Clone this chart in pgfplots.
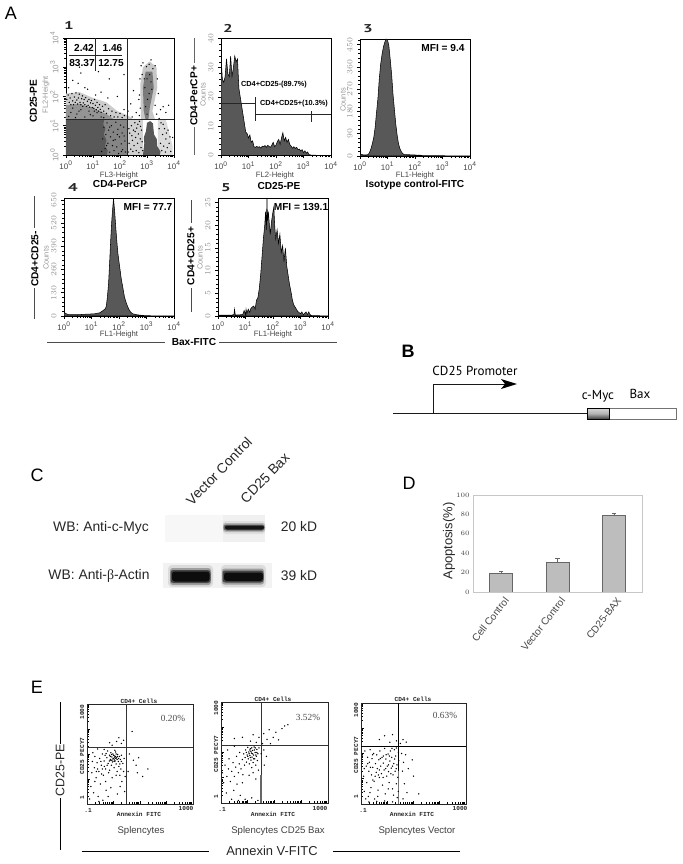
\documentclass[border=0pt]{standalone}
\usepackage{fontspec}
\setmainfont{Liberation Sans}
\newfontfamily\ptfont{PT Sans}
\newfontfamily\serfont{Liberation Serif}
\newfontfamily\monofont{Liberation Mono}
\usepackage{pgfplots}
\pgfplotsset{compat=1.18}
\definecolor{flowgray}{RGB}{88,88,88}
\definecolor{tickgray}{RGB}{70,70,70}
\definecolor{softgray}{RGB}{150,150,150}
\pgfplotsset{
 box/.style n args={4}{at={({#1*0.75pt},{(864-#3)*0.75pt})},anchor=north west,
  width={(#2-#1)*0.75pt},height={(#4-#3)*0.75pt},scale only axis},
 flow/.style={xmin=0,xmax=4,axis line style={line width=.6pt},
  xtick={0,1,2,3,4},xticklabels={10\textsuperscript{0},10\textsuperscript{1},10\textsuperscript{2},10\textsuperscript{3},10\textsuperscript{4}},
  minor xtick={.301,.477,.602,.699,.778,.845,.903,.954,1.301,1.477,1.602,1.699,1.778,1.845,1.903,1.954,2.301,2.477,2.602,2.699,2.778,2.845,2.903,2.954,3.301,3.477,3.602,3.699,3.778,3.845,3.903,3.954},
  tick align=outside,xtick pos=bottom,ytick pos=left,
  major tick length=2.2pt,minor tick length=1.2pt,tick style={black,line width=.4pt},
  tick label style={font=\fontsize{6}{7}\selectfont},
  xticklabel style={tickgray,yshift=1pt},
  yticklabel style={softgray,rotate=90,anchor=south,xshift=0pt,yshift=0pt},
  every axis plot/.append style={line width=.4pt}},
 hist/.style={draw=black,fill=flowgray},
 anx/.style={xmin=-1,xmax=3,ymin=-1,ymax=3,axis line style={line width=.6pt,black!85},
  xtick={-1,0,1,2,3},ytick={-1,0,1,2,3},xticklabels={},yticklabels={},
  minor xtick={-.7,-.52,-.4,-.3,-.22,-.15,-.1,-.05,.3,.48,.6,.7,.78,.85,.9,.95,1.3,1.48,1.6,1.7,1.78,1.85,1.9,1.95,2.3,2.48,2.6,2.7,2.78,2.85,2.9,2.95},
  minor ytick={-.7,-.52,-.4,-.3,-.22,-.15,-.1,-.05,.3,.48,.6,.7,.78,.85,.9,.95,1.3,1.48,1.6,1.7,1.78,1.85,1.9,1.95,2.3,2.48,2.6,2.7,2.78,2.85,2.9,2.95},
  tick align=inside,xtick pos=bottom,ytick pos=left,major tick length=2pt,minor tick length=1.2pt,tick style={black,line width=.5pt}},
 dots/.style={only marks,mark=*,mark size=.28pt,mark options={draw=none,fill=#1}},
 tone/.style={fill=black!#1,draw=none},
}
\begin{document}
\begin{tikzpicture}
\path[use as bounding box] (0,0) rectangle (511.5pt,648pt);

% panel 1, dot plot
\begin{axis}[flow,box={66}{174}{38}{155},ymin=0,ymax=4,ytick={0,1,2,3,4},
 yticklabels={10\textsuperscript{0},10\textsuperscript{1},10\textsuperscript{2},10\textsuperscript{3},10\textsuperscript{4}},
 minor ytick={.301,.477,.602,.699,.778,.845,.903,.954,1.301,1.477,1.602,1.699,1.778,1.845,1.903,1.954,2.301,2.477,2.602,2.699,2.778,2.845,2.903,2.954,3.301,3.477,3.602,3.699,3.778,3.845,3.903,3.954}]
% the dense clouds as tones, the loose dots on top
\addplot[tone=20] coordinates {(0,1.2) (0,2.1) (.5,2.15) (1,1.95) (1.5,1.8) (1.9,1.5) (2.3,1.35) (2.5,1.2)} --cycle;
\addplot[tone=42] coordinates {(0,1.2) (0,1.7) (.5,1.75) (1,1.6) (1.5,1.4) (1.8,1.2)} --cycle;
\addplot[tone=18] coordinates {(2.2,0) (2.2,1.23) (2.85,1.23) (2.85,0)} --cycle;
\addplot[tone=48] coordinates {(1.3,0) (1.3,1.23) (2.26,1.23) (2.26,0)} --cycle;
\addplot[tone=22] coordinates {(2.78,1.2) (2.75,2.4) (2.85,3.0) (3.1,3.2) (3.35,3.0) (3.38,2.3) (3.2,1.5) (3.3,1.2)} --cycle;
\addplot[tone=52] coordinates {(2.88,1.5) (2.85,2.3) (2.95,2.85) (3.2,2.85) (3.25,2.3) (3.1,1.6) (3.05,1.2) (2.95,1.2)} --cycle;
\addplot[tone=14] coordinates {(3.4,0) (3.4,1.2) (3.7,1.2) (3.95,.3) (3.95,0)} --cycle;
\addplot[fill=flowgray,draw=none] coordinates {(0,0) (0,1.23) (1.42,1.23) (1.38,1.05) (1.46,.9) (1.4,.7) (1.5,.5) (1.44,.3) (1.55,.15) (1.5,0)} --cycle;
\addplot[fill=flowgray,draw=none] coordinates {(2.85,0) (2.9,.4) (2.88,.6) (2.96,.8) (3.0,1.1) (3.12,1.16) (3.22,1.08) (3.26,.7) (3.36,.55) (3.38,.3) (3.5,.12) (3.48,0)} --cycle;
% light specks in the dense parts
\addplot[dots=white] coordinates {
(1.32,.12)(1.36,.55)(1.4,.95)(1.45,.22)(1.48,.7)(1.52,1.1)(1.55,.4)(1.58,.85)(1.62,.1)(1.65,.62)(1.68,1.0)(1.72,.32)(1.75,.78)(1.78,.15)(1.82,.52)(1.85,1.12)(1.88,.28)(1.92,.88)(1.95,.05)(1.98,.62)(2.02,1.02)(2.05,.38)(2.08,.75)(2.1,.18)(2.14,.95)(2.18,.48)(2.2,.1)(1.5,.32)(1.62,.95)(1.75,.5)(1.9,.7)(2.05,.12)(2.15,.65)
(.1,1.32)(.25,1.6)(.4,1.4)(.55,1.55)(.7,1.3)(.85,1.5)(1.0,1.34)(1.15,1.45)(1.3,1.3)(.18,1.45)(.62,1.66)(1.05,1.5)(.35,1.28)(.9,1.38)(1.4,1.28)(.48,1.5)
(2.92,2.3)(3.0,2.6)(3.08,2.1)(3.15,2.5)(3.02,1.9)(2.95,1.65)(3.1,2.75)(2.9,2.6)(3.18,2.25)(3.0,1.4)
};
\addplot[dots=flowgray] coordinates {
(.03,1.9)(.08,2.05)(.12,1.8)(.15,1.95)(.18,1.72)(.22,2.1)(.25,1.85)(.28,1.72)(.31,1.98)(.34,1.8)(.37,2.12)(.4,1.88)(.43,1.74)(.46,1.95)(.49,2.08)(.52,1.8)(.55,1.72)(.58,1.92)(.61,2.02)(.64,1.78)(.67,1.9)(.7,1.72)(.73,1.96)(.76,1.66)(.79,1.84)(.82,1.7)(.85,1.9)(.88,1.64)(.91,1.78)(.94,1.86)(.97,1.62)(1.0,1.76)(1.03,1.6)(1.06,1.9)(1.09,1.7)(1.12,1.55)(1.15,1.8)(1.18,1.62)(1.21,1.5)(1.24,1.72)(1.27,1.56)(1.3,1.46)(1.35,1.66)(1.4,1.5)(1.45,1.72)(1.5,1.42)(1.58,1.58)(1.65,1.34)(1.7,1.5)(1.78,1.3)(1.85,1.45)(1.92,1.3)(2.0,1.42)(2.08,1.28)(2.16,1.35)
(.1,2.3)(.45,2.45)(.8,2.25)(1.3,2.15)(.55,2.8)(1.6,2.6)(2.15,1.55)(.5,3.0)(1.2,2.85)(1.9,2.0)(2.15,2.75)(.25,2.55)(1.55,1.95)(1.1,2.05)(.7,2.3)(2.3,1.5)(2.45,1.3)(2.6,1.45)(2.7,1.9)(2.5,2.2)(2.4,1.75)
(2.3,.1)(2.34,.4)(2.36,.75)(2.4,.2)(2.42,1.0)(2.46,.5)(2.48,.12)(2.5,.85)(2.52,.32)(2.55,1.1)(2.58,.6)(2.6,.15)(2.62,.92)(2.65,.4)(2.68,.72)(2.7,.08)(2.72,1.15)(2.75,.55)(2.78,.25)(2.8,.85)(2.82,.45)(2.33,.9)(2.44,.66)(2.56,.8)(2.66,1.05)(2.76,.98)(2.84,.15)
(2.72,2.05)(2.74,2.6)(2.78,3.05)(2.82,2.75)(2.85,3.15)(2.98,3.02)(3.15,3.25)(3.3,3.05)(3.38,2.6)(3.42,2.1)(3.3,1.7)(3.36,1.4)(2.75,1.6)(2.72,1.35)(3.22,2.95)(3.08,3.1)
(3.45,.9)(3.5,.4)(3.52,1.1)(3.55,.15)(3.58,.7)(3.6,1.05)(3.62,.3)(3.65,.9)(3.68,.1)(3.7,.55)(3.75,.25)(3.78,.85)(3.82,.4)(3.88,.12)(3.6,1.65)(3.7,1.45)(3.5,1.55)(3.45,1.25)(3.8,1.7)(3.95,.6)(3.72,.75)(3.85,.62)
};
\end{axis}

% panel 2
\begin{axis}[flow,box={221}{331}{38.5}{155.5},ymin=0,ymax=40,ytick={0,10,20,30,40},minor ytick={2,4,...,38}]
\addplot[hist] coordinates {(0,0)(0,34)(.05,26)(.1,25)(.15,27)(.2,33)(.25,28)(.3,27)(.35,34)(.4,27)(.45,30)(.5,34)(.55,32)(.6,33)(.65,23)(.7,20)(.75,17)(.8,14)(.85,11)(.9,8)(.95,7.5)(1,6)(1.05,7)(1.1,4.5)(1.15,5)(1.2,3)(1.25,2.8)(1.3,3.1)(1.35,2.8)(1.4,3)(1.45,2.5)(1.5,3.2)(1.55,3)(1.6,3.4)(1.65,2.8)(1.7,3.5)(1.75,3.1)(1.8,2.8)(1.85,3.6)(1.9,4.5)(1.95,3)(2,3.5)(2.05,4.8)(2.1,5.5)(2.15,3.8)(2.2,6)(2.25,7.8)(2.3,5)(2.35,6.2)(2.4,4.5)(2.45,5.5)(2.5,3.8)(2.55,3.2)(2.6,2.5)(2.65,3)(2.7,2.4)(2.75,2.8)(2.8,2)(2.85,2.2)(2.9,1.5)(2.95,2)(3,1)(3.05,1.6)(3.1,.8)(3.15,1.2)(3.2,.3)(3.3,.1)(4,0)} --cycle;
\end{axis}

% panel 3
\begin{axis}[flow,box={360}{470}{39}{156},ymin=0,ymax=473,ytick={0,90,180,270,360,450},minor ytick={18,36,...,468}]
\addplot[hist] coordinates {(0,0)(0,8)(.1,5)(.2,4)(.3,6)(.35,15)(.4,30)(.45,50)(.5,75)(.55,115)(.6,175)(.65,230)(.7,310)(.75,370)(.8,410)(.85,440)(.9,460)(.95,473)(1,470)(1.05,445)(1.1,390)(1.15,330)(1.2,250)(1.25,190)(1.3,130)(1.35,85)(1.4,50)(1.45,30)(1.5,18)(1.55,10)(1.6,6)(1.7,5)(1.8,5)(2,4)(2.2,3)(2.3,1)(2.6,1)(3,1)(4,0)} --cycle;
\end{axis}

% panel 4
\begin{axis}[flow,box={64}{174}{198}{316},ymin=0,ymax=660,ytick={0,130,260,390,520,650},minor ytick={26,52,...,650}]
\addplot[hist] coordinates {(0,0)(0,22)(.05,15)(.15,8)(.5,7)(.8,10)(1.1,12)(1.3,18)(1.4,28)(1.5,40)(1.54,55)(1.58,110)(1.62,180)(1.66,300)(1.7,430)(1.74,540)(1.77,600)(1.8,655)(1.84,590)(1.88,500)(1.92,420)(1.96,350)(2.02,280)(2.08,210)(2.15,150)(2.2,105)(2.27,70)(2.35,40)(2.42,22)(2.5,12)(2.65,7)(2.85,3)(3.2,1)(4,0)} --cycle;
\end{axis}

% panel 5
\begin{axis}[flow,box={218}{328}{198}{316},ymin=0,ymax=26,ytick={0,5,10,15,20,25},minor ytick={1,2,...,25}]
\addplot[hist] coordinates {(0,0)(0,.2)(.5,.2)(.58,.3)(.6,1.5)(.63,.2)(.9,.3)(.95,1.2)(1.0,.3)(1.02,1.5)(1.05,.5)(1.1,1.5)(1.15,.8)(1.2,1.7)(1.25,2)(1.3,2.2)(1.35,1.5)(1.4,3.5)(1.45,4)(1.5,6)(1.55,9)(1.6,13)(1.65,17)(1.7,20)(1.73,23)(1.76,19)(1.78,26)(1.8,21)(1.83,23)(1.87,20)(1.9,18)(1.95,21)(2.0,23)(2.03,24)(2.06,20)(2.1,17)(2.15,19)(2.2,16)(2.25,18)(2.3,14)(2.35,15.5)(2.4,12)(2.45,15)(2.5,11)(2.55,9)(2.6,7)(2.65,5.5)(2.7,3.7)(2.75,2.5)(2.8,2)(2.9,1)(3,.5)(3.05,.9)(3.1,.3)(3.2,.9)(3.25,.3)(3.3,.9)(3.35,.3)(3.4,.1)(4,0)} --cycle;
\end{axis}

% panel D, bars
\begin{axis}[box={473}{642}{495}{592},xmin=.5,xmax=3.5,ymin=0,ymax=100,
 ytick={0,20,...,100},xtick={1,2,3},xticklabels={Cell Control,Vector Control,CD25-BAX},
 axis line style={black!22},tick style={draw=none},
 yticklabel style={font=\fontsize{5.5}{6}\selectfont,tickgray,xshift=1pt},
 xticklabel style={font=\fontsize{7.6}{8}\selectfont,tickgray,rotate=52,anchor=north east,xshift=2pt,yshift=0pt}]
\addplot[ybar,bar width=17.25pt,fill=black!26,draw=black!60,line width=.6pt,
 error bars/.cd,y dir=plus,y explicit,error mark options={rotate=90,mark size=1.6pt,black!60},error bar style={black!60,line width=.5pt}]
 coordinates {(1,19) +- (0,2) (2,30.5) +- (0,4.5) (3,78.5) +- (0,2.2)};
\end{axis}

% panel E, three annexin plots
\begin{axis}[anx,box={87}{193}{704}{804}]
\addplot[dots=black!55] coordinates {
(-.9,-.8)(-.85,-.3)(-.82,.25)(-.8,.7)(-.78,1.05)(-.75,-.55)(-.72,.45)(-.7,.9)(-.66,.05)(-.62,.65)(-.6,1.2)(-.58,-.7)(-.55,.3)(-.52,.82)(-.5,-.2)(-.46,.55)(-.42,1.0)(-.4,-.85)(-.38,.15)(-.35,.72)(-.32,.95)(-.3,.4)(-.28,-.45)(-.25,.85)(-.22,1.12)(-.2,.62)(-.18,.25)(-.15,.95)(-.12,.78)(-.1,1.05)(-.08,.55)(-.06,.88)(-.04,.68)(-.02,1.0)(0,.82)(.02,.45)(.04,.92)(.06,.72)(.08,1.08)(.1,.6)(.12,.85)(.14,.3)(.16,.98)(.18,.7)(.2,.5)(.22,.9)(.24,.15)(.26,.78)(.28,.4)(.3,.95)(.32,-.1)(.35,.62)(.38,.3)(.4,.82)(.42,-.5)(.44,.1)
(-.6,.4)(-.45,.2)(-.3,-.1)(-.15,.35)(-.05,.05)(.1,.15)(-.7,-.1)(-.35,1.18)(-.1,.75)(-.02,.8)(.03,.76)(.07,.9)(-.07,.98)(-.55,-.9)(-.2,-.7)(.15,-.6)(-.1,-.35)(.25,-.3)(-.05,1.35)(.12,1.5)(.2,1.65)(.3,1.42)(.38,1.55)(-.15,1.45)(.6,1.0)(.75,.75)(.85,.55)(.95,.85)(1.1,.1)(.55,.3)(1.3,.4)(.7,1.9)(.9,.25)
(.0,.95)(.05,.85)(.1,1.0)(.14,.78)(.02,.7)(-.06,.75)(.09,.82)(.15,.9)(-.12,.9)(.19,.82)(-.16,.72)(-.24,.55)(-.34,.5)(-.48,.7)(-.65,.3)(.24,.6)(.3,.7)(.05,1.15)(-.28,1.02)(-.42,.4)
};
\draw[black!80,line width=.6pt] (axis cs:.47,-1)--(axis cs:.47,3);
\draw[black!80,line width=.6pt] (axis cs:-1,1.28)--(axis cs:3,1.28);
\end{axis}
\begin{axis}[anx,box={221}{328}{702}{803}]
\addplot[dots=black!75] coordinates {
(-.95,.2)(-.9,-.2)(-.85,.5)(-.8,-.6)(-.78,.05)(-.72,.35)(-.7,.75)(-.65,-.15)(-.6,.25)(-.55,.6)(-.52,-.5)(-.5,.05)(-.45,.42)(-.42,.85)(-.4,-.25)(-.35,.2)(-.32,.55)(-.3,1.0)(-.28,-.7)(-.25,.35)(-.2,.72)(-.18,.12)(-.15,.95)(-.12,.5)(-.1,.8)(-.08,1.1)(-.05,.62)(-.02,.9)(0,1.2)(.02,.75)(.04,1.02)(.06,.55)(.08,.88)(.1,1.15)(.12,.7)(.14,.98)(.16,.82)(.18,1.08)(.2,.6)(.22,.9)(.24,1.22)(.26,.75)(.28,1.0)(.3,.5)(.32,.85)(.34,1.12)(.36,.68)(.38,.95)(.4,.3)(.42,1.18)(-.6,-.85)(-.35,-.9)(-.1,-.85)(.15,-.8)(.38,-.9)(-.75,1.1)(-.5,1.25)
(.1,1.45)(.2,1.7)(.32,1.4)(.42,1.6)(.55,1.35)(.6,1.75)(.72,1.52)(.8,1.9)(.85,1.35)(.95,1.6)(1.05,1.8)(1.15,1.5)(1.28,1.95)(1.38,2.05)(1.5,2.1)(-.2,1.6)(-.5,1.55)(.5,.95)(.6,1.1)(.7,.85)(.62,.5)(.05,.1)(.2,.2)(-.2,-.2)(.3,-.05)(.15,.4)
(.05,.95)(.12,1.05)(.18,.95)(.25,1.1)(.1,.8)(.3,.9)(.34,1.0)(.0,.85)(-.05,1.0)(.22,.75)(.08,1.1)(.28,1.18)(.15,1.18)
};
\draw[black!80,line width=.6pt] (axis cs:.5,-1)--(axis cs:.5,3);
\draw[black!60,line width=1pt] (axis cs:.5,-1)--(axis cs:.5,.1);
\draw[black!80,line width=.6pt] (axis cs:-1,1.3)--(axis cs:3,1.3);
\end{axis}
\begin{axis}[anx,box={361}{466}{703}{804}]
\addplot[dots=black!45] coordinates {
(-.95,.9)(-.9,.1)(-.88,-.5)(-.85,1.1)(-.8,.5)(-.78,-.15)(-.75,.85)(-.72,-.7)(-.7,.3)(-.68,.65)(-.65,1.15)(-.62,-.35)(-.6,.15)(-.58,.8)(-.55,.45)(-.52,1.0)(-.5,-.1)(-.48,-.8)(-.45,.6)(-.42,.25)(-.4,.95)(-.38,.4)(-.35,-.45)(-.32,.75)(-.3,.05)(-.28,1.1)(-.25,.5)(-.22,.2)(-.2,.85)(-.18,-.25)(-.15,.62)(-.12,.35)(-.1,1.2)(-.08,-.6)(-.05,.78)(-.02,.1)(0,.5)(.03,.98)(.05,.28)(.07,-.15)(.1,.7)(.12,1.1)(.15,.42)(.17,.85)(.2,-.4)(.22,.15)(.25,.6)(.27,1.15)(.3,.3)(.32,.9)(.35,-.2)(.37,.55)(.4,.05)(.42,1.05)(.44,.72)
(-.7,-.92)(-.4,-.9)(-.1,-.88)(.2,-.92)(.38,-.75)(-.15,.9)(.18,1.2)(.05,.55)(-.55,-.05)(-.3,.35)(.28,.78)(.35,1.22)
(-.3,1.55)(-.1,1.7)(.1,1.45)(.2,1.75)(.35,1.5)(.5,1.4)(.6,1.55)(.72,1.45)(.55,1.0)(.62,.65)(.58,.3)(.7,.95)(.65,-.2)(.75,-.55)(.8,.4)(.6,-.8)(1.0,.1)(.95,.75)(1.2,-.6)
(-.88,.4)(-.82,-.8)(-.74,.6)(-.66,-.55)(-.56,.95)(-.46,.1)(-.36,-.7)(-.26,.8)(-.16,.05)(-.06,.4)(.04,-.4)(.14,.2)(.24,-.65)(.34,.4)(.42,-.5)(-.64,.45)(-.34,.15)(-.04,.95)(.08,.9)(.2,.5)
};
\draw[black,line width=.6pt] (axis cs:.43,-1)--(axis cs:.43,3);
\draw[black!55,line width=1pt] (axis cs:.43,-1)--(axis cs:.43,.3);
\draw[black,line width=.6pt] (axis cs:-1,1.28)--(axis cs:3,1.28);
\end{axis}

% everything else in image pixels: lines, labels, blots, gene map
\begin{axis}[box={0}{682}{0}{864},hide axis,clip=false,xmin=0,xmax=682,ymin=0,ymax=864,y dir=reverse,
 every node/.append style={inner sep=0pt,outer sep=0pt}]
\addplot[draw=none] coordinates {(0,0)};

\tikzset{lab/.style={font=\bfseries\fontsize{7.6}{9}\selectfont},
 small/.style={font=\fontsize{5.8}{7}\selectfont,tickgray},
 cnt/.style={font=\fontsize{5.6}{7}\selectfont,softgray,rotate=90},
 num/.style={font=\bfseries\fontsize{8.5}{10}\selectfont\ptfont,xscale=1.5,black!85},
 wb/.style={font=\fontsize{10.4}{12}\selectfont,black!85},
 big/.style={font=\fontsize{13.5}{14}\selectfont},
 pt/.style={font=\fontsize{9.8}{11}\selectfont\ptfont},
 mono/.style={font=\bfseries\fontsize{4.6}{5}\selectfont\monofont,black!85},
 split/.style={black!85,line width=.55pt}}

% panel letters
\node[big] at (axis cs:11,13) {A};
\node[big,font=\bfseries\fontsize{13.5}{14}\selectfont] at (axis cs:408,351) {B};
\node[big] at (axis cs:37,475) {C};
\node[big] at (axis cs:409,483) {D};
\node[big] at (axis cs:37,687) {E};

% plot numbers
\node[num] at (axis cs:69,25) {1};
\node[num] at (axis cs:228,28) {2};
\node[num] at (axis cs:368,29) {3};
\node[num] at (axis cs:73,188) {4};
\node[num] at (axis cs:226,188) {5};

% panel 1 text and quadrants
\draw[split] (axis cs:127,38)--(axis cs:127,155);
\draw[split] (axis cs:66,119)--(axis cs:174,119);
\draw[split] (axis cs:95.7,38)--(axis cs:95.7,71);
\draw[split] (axis cs:69,55)--(axis cs:122,55);
\node[lab] at (axis cs:84,48) {2.42};
\node[lab] at (axis cs:112.5,48) {1.46};
\node[lab] at (axis cs:82,63.5) {83.37};
\node[lab] at (axis cs:111,63.5) {12.75};
\node[lab,rotate=90] at (axis cs:33.5,101) {CD25-PE};
\node[cnt] at (axis cs:46,95) {FL2-Height};
\node[small] at (axis cs:119,175) {FL3-Height};
\node[lab] at (axis cs:120,184.5) {CD4-PerCP};

% panel 2 gates
\draw[split] (axis cs:221,103)--(axis cs:255,103);
\draw[split] (axis cs:221,97)--(axis cs:221,110);
\draw[split] (axis cs:255,97)--(axis cs:255,121);
\draw[split] (axis cs:255,114)--(axis cs:331,114);
\draw[split] (axis cs:311,111)--(axis cs:311,122);
\node[lab,font=\bfseries\fontsize{5.5}{7}\selectfont] at (axis cs:274,85) {CD4+CD25-(89.7\%)};
\node[lab,font=\bfseries\fontsize{5.5}{7}\selectfont] at (axis cs:294,104) {CD4+CD25+(10.3\%)};
\node[lab,rotate=90] at (axis cs:194,96) {CD4-PerCP+};
\draw[black!60,line width=.5pt] (axis cs:194,38)--(axis cs:194,63);
\draw[black!60,line width=.5pt] (axis cs:194,127)--(axis cs:194,155);
\node[cnt] at (axis cs:203,95) {Counts};
\node[small] at (axis cs:275,175) {FL2-Height};
\node[lab] at (axis cs:279,186) {CD25-PE};

% panel 3
\node[lab] at (axis cs:443,48) {MFI = 9.4};
\node[cnt] at (axis cs:343,100) {Counts};
\node[small] at (axis cs:415,175) {FL1-Height};
\node[lab] at (axis cs:415,185) {Isotype control-FITC};

% panels 4 and 5
\node[lab] at (axis cs:148,207) {MFI = 77.7};
\node[lab] at (axis cs:301,207) {MFI = 139.1};
\node[lab,rotate=90] at (axis cs:35,259) {CD4+CD25-};
\draw[black!70,line width=.5pt] (axis cs:34,196)--(axis cs:34,228);
\draw[black!70,line width=.5pt] (axis cs:34,288)--(axis cs:34,319);
\node[lab,rotate=90] at (axis cs:191,256) {CD4+CD25+};
\draw[black!70,line width=.5pt] (axis cs:191,200)--(axis cs:191,223);
\draw[black!70,line width=.5pt] (axis cs:191,288)--(axis cs:191,312);
\node[cnt] at (axis cs:46,258) {Counts};
\node[cnt] at (axis cs:200,258) {Counts};
\node[small] at (axis cs:119,334) {FL1-Height};
\node[small] at (axis cs:273,334) {FL1-Height};
\node[lab] at (axis cs:194,342) {Bax-FITC};
\draw[black!70,line width=.5pt] (axis cs:47,342)--(axis cs:165,342);
\draw[black!70,line width=.5pt] (axis cs:219,342)--(axis cs:337,342);

% B, gene map
\draw[black!90,line width=.75pt] (axis cs:393,413)--(axis cs:587,413);
\draw[black!90,line width=.6pt] (axis cs:433,413)--(axis cs:433,384)--(axis cs:505,384);
\fill[black] (axis cs:517,384)--(axis cs:501,379)--(axis cs:505,384)--(axis cs:501,389)--cycle;
\node[pt] at (axis cs:475,371) {CD25 Promoter};
\node[pt] at (axis cs:598,396) {c-Myc};
\node[pt] at (axis cs:640,394) {Bax};
\draw[black!55,line width=.7pt,fill=white] (axis cs:609,408) rectangle (axis cs:676,419);
\shade[top color=black!15,bottom color=black!75,middle color=black!30] (axis cs:587,408) rectangle (axis cs:609,419);
\draw[black,line width=.7pt] (axis cs:587,408) rectangle (axis cs:609,419);

% C, blots, bands built up from soft layers
\fill[black!3] (axis cs:165,515) rectangle (axis cs:223,542);
\fill[black!6] (axis cs:223,515) rectangle (axis cs:265,542);
\fill[black!12,rounded corners=2pt] (axis cs:223,521) rectangle (axis cs:265,534);
\fill[black!30,rounded corners=2pt] (axis cs:223,523) rectangle (axis cs:265,532);
\fill[black!60,rounded corners=2pt] (axis cs:223.5,524.5) rectangle (axis cs:264.5,530.5);
\fill[black!92,rounded corners=1.5pt] (axis cs:225,525.5) rectangle (axis cs:264,529.5);
\fill[black!5] (axis cs:163,563) rectangle (axis cs:272,588);
\fill[black!14,rounded corners=3pt] (axis cs:168,565) rectangle (axis cs:213,587);
\fill[black!14,rounded corners=3pt] (axis cs:221,565) rectangle (axis cs:266,587);
\fill[black!38,rounded corners=2pt] (axis cs:170,568) rectangle (axis cs:211,585);
\fill[black!38,rounded corners=2pt] (axis cs:222,568.5) rectangle (axis cs:264,584.5);
\fill[black!72,rounded corners=2pt] (axis cs:170.5,570) rectangle (axis cs:210.5,583);
\fill[black!72,rounded corners=2pt] (axis cs:222.5,570.5) rectangle (axis cs:263.5,582.5);
\fill[black!95,rounded corners=2pt] (axis cs:172,571.5) rectangle (axis cs:209.5,581.5);
\fill[black!95,rounded corners=2pt] (axis cs:224,572.5) rectangle (axis cs:263,581);
\node[wb,rotate=46] at (axis cs:219,471) {Vector Control};
\node[wb,rotate=46] at (axis cs:265,478) {CD25 Bax};
\node[wb] at (axis cs:101,528) {WB: Anti-c-Myc};
\node[wb] at (axis cs:99,576) {WB: Anti-{\fontspec{Liberation Serif}\symbol{"03B2}}-Actin};
\node[wb] at (axis cs:299,527) {20 kD};
\node[wb] at (axis cs:299,576) {39 kD};

% D
\node[rotate=90,font=\fontsize{9.7}{11}\selectfont,black!85] at (axis cs:449,541) {Apoptosis(\%)};

% E text
\node[mono] at (axis cs:139,701) {CD4+ Cells};
\node[mono] at (axis cs:273,699) {CD4+ Cells};
\node[mono] at (axis cs:413,699.5) {CD4+ Cells};
\node[mono] at (axis cs:139,814) {Annexin FITC};
\node[mono] at (axis cs:273,814) {Annexin FITC};
\node[mono] at (axis cs:412,814) {Annexin FITC};
\node[mono,rotate=90] at (axis cs:82,756) {CD25 PECY7};
\node[mono,rotate=90] at (axis cs:216,754) {CD25 PECY7};
\node[mono,rotate=90] at (axis cs:356,755) {CD25 PECY7};
\node[mono,rotate=90] at (axis cs:82,712) {1000};
\node[mono,rotate=90] at (axis cs:216,708) {1000};
\node[mono,rotate=90] at (axis cs:356,710) {1000};
\node[mono,rotate=90] at (axis cs:82,798) {1};
\node[mono,rotate=90] at (axis cs:216,797) {1};
\node[mono,rotate=90] at (axis cs:356,797) {1};
\node[mono] at (axis cs:88,810) {.1};
\node[mono] at (axis cs:222,809) {.1};
\node[mono] at (axis cs:363,810) {.1};
\node[mono] at (axis cs:186,808) {1000};
\node[mono] at (axis cs:320,808) {1000};
\node[mono] at (axis cs:460,808) {1000};
\node[font=\fontsize{7}{8}\selectfont\serfont,black!70] at (axis cs:173,718) {0.20\%};
\node[font=\fontsize{7}{8}\selectfont\serfont,black!70] at (axis cs:308,717) {3.52\%};
\node[font=\fontsize{7}{8}\selectfont\serfont,black!70] at (axis cs:445,715) {0.63\%};
\node[font=\fontsize{7.2}{8}\selectfont,black!75] at (axis cs:141,831) {Splencytes};
\node[font=\fontsize{7.2}{8}\selectfont,black!75] at (axis cs:278,831) {Splencytes CD25 Bax};
\node[font=\fontsize{7.2}{8}\selectfont,black!75] at (axis cs:417,831) {Splencytes Vector};
\node[font=\fontsize{9.7}{11}\selectfont,black!85] at (axis cs:272,851) {Annexin V-FITC};
\draw[black,line width=.7pt] (axis cs:82,851)--(axis cs:209,851);
\draw[black,line width=.7pt] (axis cs:333,851)--(axis cs:460,851);
\node[rotate=90,font=\fontsize{9.3}{11}\selectfont,black!85] at (axis cs:60,770) {CD25-PE};
\draw[black,line width=.7pt] (axis cs:60,702)--(axis cs:60,744);
\draw[black,line width=.7pt] (axis cs:60,798)--(axis cs:60,850);
\end{axis}
\end{tikzpicture}
\end{document}
